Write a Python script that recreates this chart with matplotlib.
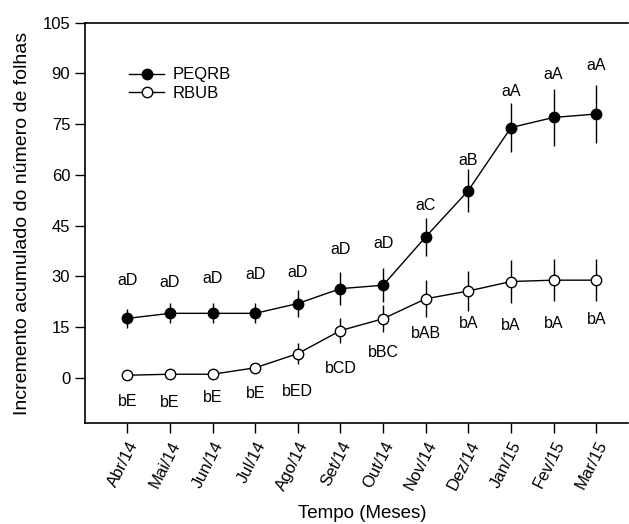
import matplotlib.pyplot as plt
from matplotlib.lines import Line2D

plt.rcParams["font.family"] = ["Liberation Sans", "DejaVu Sans"]

meses = ["Abr/14", "Mai/14", "Jun/14", "Jul/14", "Ago/14", "Set/14",
         "Out/14", "Nov/14", "Dez/14", "Jan/15", "Fev/15", "Mar/15"]

# incremento acumulado medio e erro de cada area
peqrb = [17.6, 19.1, 19.1, 19.1, 22.0, 26.4, 27.4, 41.7, 55.4, 74.0, 77.0, 78.0]
peqrb_erro = [2.8, 3.0, 3.0, 3.0, 4.0, 4.8, 5.0, 5.6, 6.4, 7.3, 8.4, 8.6]
rbub = [0.8, 1.1, 1.1, 3.0, 7.2, 14.0, 17.5, 23.4, 25.7, 28.5, 28.9, 28.9]
rbub_erro = [0.4, 0.4, 0.4, 1.0, 3.0, 3.8, 4.0, 5.5, 5.8, 6.4, 6.2, 6.2]

# letras do teste de medias e altura onde ficam
letras_peqrb = ["aD", "aD", "aD", "aD", "aD", "aD", "aD", "aC", "aB", "aA", "aA", "aA"]
y_letras_peqrb = [28.7, 28.2, 29.5, 30.7, 31.3, 38.1, 39.6, 50.9, 64.3, 84.8, 89.7, 92.3]
letras_rbub = ["bE", "bE", "bE", "bE", "bED", "bCD", "bBC", "bAB", "bA", "bA", "bA", "bA"]
y_letras_rbub = [-6.9, -7.2, -5.8, -4.7, -4.0, 2.8, 7.4, 13.1, 16.1, 15.5, 16.1, 17.3]

x = list(range(len(meses)))

fig = plt.figure(figsize=(6.29, 5.24), dpi=100)
ax = fig.add_axes([0.1347, 0.1922, 0.8640, 0.7645])

ax.errorbar(x, peqrb, yerr=peqrb_erro, color="black", lw=1, elinewidth=1,
            marker="o", markersize=7.5, markerfacecolor="black",
            markeredgecolor="black", capsize=0, zorder=3)
ax.errorbar(x, rbub, yerr=rbub_erro, color="black", lw=1, elinewidth=1,
            marker="o", markersize=7.5, markerfacecolor="white",
            markeredgecolor="black", markeredgewidth=1, capsize=0, zorder=3)

for i in x:
    ax.text(i, y_letras_peqrb[i], letras_peqrb[i], ha="center", va="center", fontsize=11.5)
    ax.text(i, y_letras_rbub[i], letras_rbub[i], ha="center", va="center", fontsize=11.5)

ax.set_xlim(-1, 11.75)
ax.set_ylim(-13.4, 105)
ax.set_yticks([0, 15, 30, 45, 60, 75, 90, 105])
ax.set_xticks(x)
ax.set_xticklabels(meses, rotation=63, ha="right", rotation_mode="anchor", fontsize=12)
ax.tick_params(axis="both", direction="out", length=7, width=1)
ax.tick_params(axis="y", labelsize=12)
ax.tick_params(axis="x", pad=4)

ax.spines["right"].set_visible(False)
for s in ["left", "bottom", "top"]:
    ax.spines[s].set_linewidth(1.2)

ax.set_xlabel("Tempo (Meses)", fontsize=13.5)
ax.set_ylabel("Incremento acumulado do número de folhas", fontsize=14)
ax.xaxis.set_label_coords(0.511, -0.205)
ax.yaxis.set_label_coords(-0.098, 0.5)

# legenda so com linha e marcador, sem a barra de erro
handles = [
    Line2D([], [], color="black", lw=1, marker="o", markersize=7.5,
           markerfacecolor="black", markeredgecolor="black"),
    Line2D([], [], color="black", lw=1, marker="o", markersize=7.5,
           markerfacecolor="white", markeredgecolor="black"),
]
ax.legend(handles, ["PEQRB", "RBUB"], loc="upper left", bbox_to_anchor=(0.07, 0.905),
          frameon=False, fontsize=12, handlelength=2.1, handletextpad=0.5,
          labelspacing=0.2, borderaxespad=0)

fig.savefig("out.png", dpi=100)
